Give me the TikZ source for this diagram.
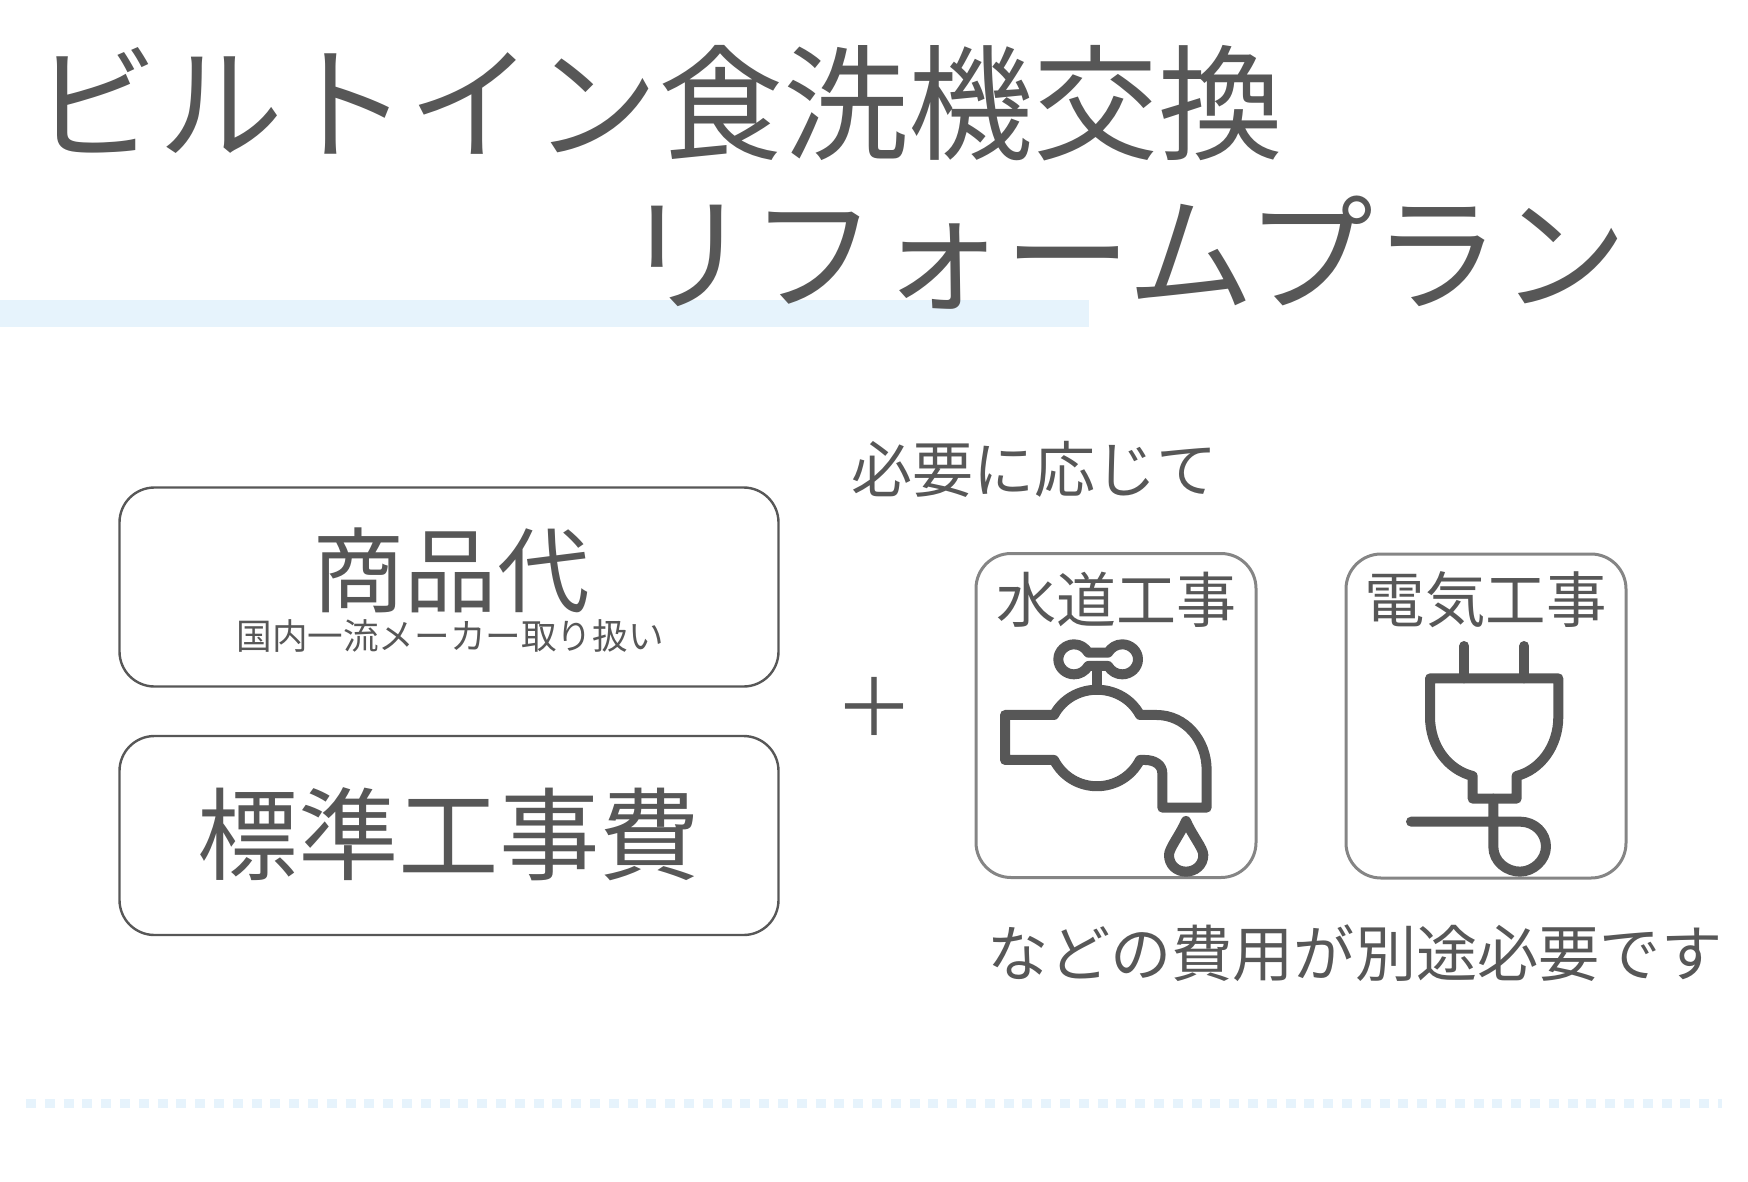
\documentclass[tikz,border=0pt]{standalone}
\usepackage{xcolor}
\usepackage{fontspec}
\setmainfont{Noto Sans CJK JP}
\usetikzlibrary{positioning}
\definecolor{inkgray}{HTML}{575757}
\definecolor{framegray}{HTML}{858585}
\definecolor{bandblue}{HTML}{E6F3FC}

\begin{document}
\begin{tikzpicture}[x=1pt,y=-1pt,
			every node/.style = {inner sep=0pt, outer sep=0pt, text=inkgray},
			planbox/.style = {draw=inkgray, line width=2.4pt, rounded corners=35pt,
				minimum width=659pt, minimum height=199pt},
			workbox/.style = {draw=framegray, line width=3pt, rounded corners=35pt,
				minimum width=280pt, minimum height=324pt},
			icon/.style = {draw=inkgray, line width=10pt, line join=round, line cap=round}]
			\useasboundingbox (0,0) rectangle (1748,1181);
			% bands
			\fill[bandblue] (0,300) rectangle (1089,327);
			\draw[bandblue, line width=9pt, dash pattern=on 10pt off 8.8pt] (26,1103) -- (1722,1103);
			% title
			\node[anchor=west] (title1) at (33.5,103) {\fontsize{125}{125}\selectfont ビルトイン食洗機交換};
			\node[anchor=west] (title2) at (623,253) {\fontsize{127}{127}\selectfont リフォームプラン};
			% left boxes
			\node[planbox] (goodsbox) at (449,587) {};
			\node[planbox] (workcost) at (449,835.5) {};
			\node (goods) at (451,570) {\fontsize{92.5}{93}\selectfont 商品代};
			\node (goodsnote) at (450,636) {\fontsize{35.6}{36}\selectfont 国内一流メーカー取り扱い};
			\node (stdwork) at (449,834) {\fontsize{100.5}{101}\selectfont 標準工事費};
			\node (plus) at (874,707) {\fontsize{80}{80}\selectfont ＋};
			% right side
			\node (ifneeded) at (1034,469) {\fontsize{61}{61}\selectfont 必要に応じて};
			\node[workbox] (waterbox) at (1116,715.5) {};
			\node[workbox] (powerbox) at (1486,716) {};
			\node (water) at (1116,600) {\fontsize{60}{60}\selectfont 水道工事};
			\node (power) at (1485.5,600) {\fontsize{60.5}{61}\selectfont 電気工事};
			\node (costnote) at (1355,953) {\fontsize{61.2}{62}\selectfont などの費用が別途必要です};
			% tap
			\begin{scope}[shift={(960,540)},x=0.3333pt,y=-0.3333pt]
				\draw[icon] (135,525) -- (282,525) .. controls (337,424) and (485,424) .. (540,525)
					-- (590,525) .. controls (675,525) and (740,600) .. (740,690)
					-- (740,803) -- (607,803) -- (607,700) .. controls (607,675) and (585,660) .. (555,660)
					-- (540,660) .. controls (485,765) and (337,765) .. (282,660) -- (135,660) -- cycle;
				\draw[icon] (385,338) .. controls (375,322) and (360,313) .. (342,313)
					.. controls (317,313) and (295,333) .. (295,358)
					.. controls (295,383) and (317,403) .. (342,403)
					.. controls (360,403) and (375,394) .. (385,378) -- (444,378)
					.. controls (454,394) and (469,403) .. (487,403)
					.. controls (512,403) and (534,383) .. (534,358)
					.. controls (534,333) and (512,313) .. (487,313)
					.. controls (469,313) and (454,322) .. (444,338) -- cycle;
				\draw[icon] (410,378) -- (410,445);
				\draw[icon] (678,843) .. controls (660,885) and (627,925) .. (627,945)
					.. controls (627,975) and (650,995) .. (678,995)
					.. controls (706,995) and (730,975) .. (730,945)
					.. controls (730,925) and (696,885) .. (678,843) -- cycle;
			\end{scope}
			% plug
			\begin{scope}[shift={(1330,540)},x=0.3333pt,y=-0.3333pt]
				\draw[icon] (403,318) -- (403,415);
				\draw[icon] (583,318) -- (583,415);
				\draw[icon] (300,415) -- (300,530) .. controls (300,620) and (355,690) .. (428,708)
					-- (428,776) -- (560,776) -- (560,708) .. controls (630,690) and (685,620) .. (685,530)
					-- (685,415) -- cycle;
				\draw[icon] (490,776) -- (490,920) .. controls (490,965) and (530,995) .. (570,995)
					.. controls (610,995) and (648,960) .. (648,920)
					.. controls (648,880) and (615,845) .. (570,845) -- (243,845);
			\end{scope}
\end{tikzpicture}
\end{document}
